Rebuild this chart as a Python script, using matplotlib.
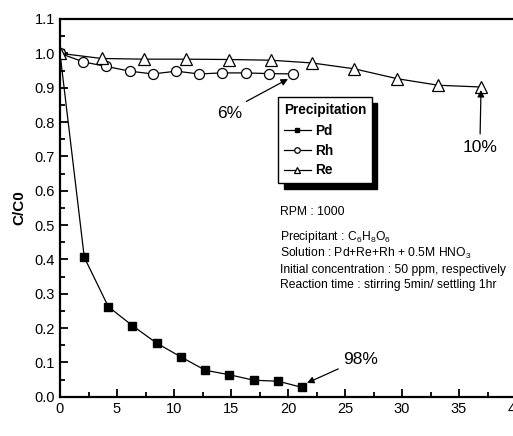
import matplotlib
matplotlib.use("Agg")
import matplotlib.pyplot as plt
from matplotlib.ticker import MultipleLocator

plt.rcParams['font.family'] = ['Liberation Sans', 'DejaVu Sans']
plt.rcParams['mathtext.fontset'] = 'custom'
plt.rcParams['mathtext.rm'] = 'Liberation Sans'
plt.rcParams['mathtext.it'] = 'Liberation Sans:italic'
plt.rcParams['mathtext.bf'] = 'Liberation Sans:bold'

pd_x = [0, 2.13, 4.24, 6.35, 8.48, 10.6, 12.75, 14.85, 17.0, 19.15, 21.25]
pd_y = [1.0, 0.406, 0.262, 0.207, 0.156, 0.116, 0.077, 0.064, 0.048, 0.045, 0.027]
rh_x = [0, 2.05, 4.04, 6.14, 8.13, 10.2, 12.2, 14.2, 16.3, 18.3, 20.4]
rh_y = [1.0, 0.975, 0.962, 0.948, 0.940, 0.948, 0.940, 0.943, 0.943, 0.941, 0.940]
re_x = [0, 3.66, 7.37, 11.05, 14.8, 18.5, 22.1, 25.8, 29.6, 33.2, 36.9]
re_y = [1.0, 0.985, 0.983, 0.983, 0.982, 0.980, 0.972, 0.955, 0.926, 0.907, 0.902]

info_lines = ["RPM : 1000",
              r"Precipitant : C$_6$H$_8$O$_6$",
              r"Solution : Pd+Re+Rh + 0.5M HNO$_3$",
              "Initial concentration : 50 ppm, respectively",
              "Reaction time : stirring 5min/ settling 1hr"]

fig = plt.figure(figsize=(5.13, 4.36), dpi=100)
W, H = 513, 436
ax = fig.add_axes([60 / W, 1 - 396.7 / H, 456 / W, 377.7 / H])

ax.plot(pd_x, pd_y, '-', color='k', lw=0.9, marker='s', ms=6.3, mfc='k', mec='k', label='Pd')
ax.plot(rh_x, rh_y, '-', color='k', lw=0.9, marker='o', ms=7.2, mfc='white', mec='k', mew=0.9, label='Rh')
ax.plot(re_x, re_y, '-', color='k', lw=0.9, marker='^', ms=8, mfc='white', mec='k', mew=0.9, label='Re')

ax.set_xlim(0, 40)
ax.set_ylim(0, 1.1)
ax.xaxis.set_major_locator(MultipleLocator(5))
ax.xaxis.set_minor_locator(MultipleLocator(2.5))
ax.yaxis.set_major_locator(MultipleLocator(0.1))
ax.yaxis.set_minor_locator(MultipleLocator(0.05))
ax.yaxis.set_major_formatter(matplotlib.ticker.FormatStrFormatter('%.1f'))
ax.tick_params(which='both', direction='in', top=False, right=False, labelsize=10.5, width=1.3)
ax.tick_params(which='major', length=6)
ax.tick_params(which='minor', length=3.5)
for s in ax.spines.values():
    s.set_linewidth(1.6)
ax.spines['right'].set_visible(False)

ax.set_xlabel('mole ratio', fontsize=11, fontweight='bold', labelpad=22)
ax.set_ylabel('C/C0', fontsize=11, fontweight='bold', labelpad=6)

leg = ax.legend(title='Precipitation', loc='upper left', bbox_to_anchor=(0.478, 0.793),
                borderaxespad=0,
                fancybox=False, edgecolor='k', framealpha=1,
                shadow={'color': 'k', 'alpha': 1, 'ox': 4, 'oy': -4},
                handlelength=2.0, handletextpad=0.3, borderpad=0.42, labelspacing=0.42,
                markerscale=0.55, prop={'weight': 'bold', 'size': 9.8},
                title_fontproperties={'weight': 'bold', 'size': 9.8})
leg._legend_box.align = 'left'
leg._legend_box.sep = 5
leg.get_frame().set_linewidth(1.0)

def px(x, y):
    return ax.transData.inverted().transform(fig.transFigure.transform((x / W, 1 - y / H)))

arrowprops = dict(arrowstyle='-|>', color='k', lw=0.9, mutation_scale=10, shrinkA=2, shrinkB=0)
ax.annotate('6%', xy=px(288, 79), xytext=px(230, 113), fontsize=12.5, ha='center', va='center',
            arrowprops=dict(arrowprops, relpos=(0.85, 1.0)))
ax.annotate('10%', xy=px(481, 90), xytext=px(480, 147), fontsize=12.5, ha='center', va='center',
            arrowprops=dict(arrowprops, relpos=(0.5, 1.0)))
ax.annotate('98%', xy=px(307, 383), xytext=px(361, 359), fontsize=12.5, ha='center', va='center',
            arrowprops=dict(arrowprops, relpos=(0.0, 0.0)))

ys = [212, 237, 253, 270, 285]
for t, y in zip(info_lines, ys):
    xx, yy = px(280, y)
    ax.text(xx, yy, t, fontsize=8.7, ha='left', va='center')

fig.savefig('out.png', dpi=100)
